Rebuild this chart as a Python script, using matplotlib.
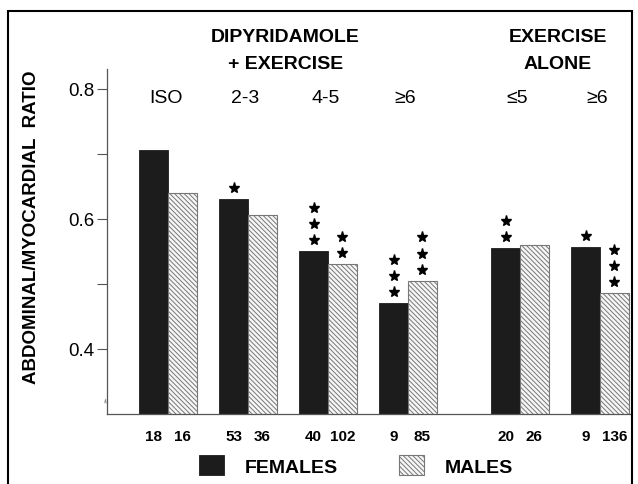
import matplotlib
matplotlib.use('Agg')
import matplotlib.pyplot as plt
from matplotlib.patches import Rectangle
import numpy as np

plt.rcParams['font.family'] = ['Liberation Sans', 'DejaVu Sans']
plt.rcParams['hatch.color'] = '#8a8a8a'
plt.rcParams['hatch.linewidth'] = 0.7

# Data
categories = ['ISO', '2-3', '4-5', '\u22656', '\u22645', '\u22656']
females = [0.706, 0.631, 0.551, 0.471, 0.555, 0.557]
males = [0.640, 0.605, 0.531, 0.505, 0.560, 0.486]
n_females = [18, 53, 40, 9, 20, 9]
n_males = [16, 36, 102, 85, 26, 136]
stars_females = [0, 1, 3, 3, 2, 1]
stars_males = [0, 0, 2, 3, 0, 3]
group_top = ['DIPYRIDAMOLE', 'EXERCISE']
group_bottom = ['+ EXERCISE', 'ALONE']

x = np.array([0, 1, 2, 3, 4.4, 5.4])
w = 0.36

fig = plt.figure(figsize=(6.38, 4.85), dpi=100)
ax = fig.add_axes([107/638, 70/485, 524/638, 345/485])

b1 = ax.bar(x - w/2, females, w, color='#1c1c1c', edgecolor='#1c1c1c',
            linewidth=0.6, label='FEMALES')
b2 = ax.bar(x + w/2, males, w, color='#f6f6f6', edgecolor='#777777',
            linewidth=0.8, hatch='\\\\\\\\\\\\\\', label='MALES')

ax.set_xlim(-0.7625, 5.7875)
ax.set_ylim(0.3, 0.83)

# axes styling
for s in ['top', 'right']:
    ax.spines[s].set_visible(False)
for s in ['left', 'bottom']:
    ax.spines[s].set_color('#555555')
    ax.spines[s].set_linewidth(0.9)
ax.set_xticks([])
ax.set_yticks([0.4, 0.6, 0.8])
ax.set_yticklabels(['0.4', '0.6', '0.8'], fontsize=13.5)
ax.set_yticks([0.5, 0.7], minor=True)
ax.tick_params(axis='y', which='both', direction='out', length=7, width=0.8,
               color='#555555', pad=2)

# axis break mark
ax.text(0.0, 0.322, '\u2248', transform=ax.get_yaxis_transform(), rotation=75,
        fontsize=6, ha='center', va='center', color='#444444')

# significance stars
off = 11/650.0
step = 16/650.0
for xi, v, k in zip(x - w/2, females, stars_females):
    for i in range(k):
        ax.plot(xi, v + off + i*step, marker='*', color='black', ms=8, clip_on=False)
for xi, v, k in zip(x + w/2, males, stars_males):
    for i in range(k):
        ax.plot(xi, v + off + i*step, marker='*', color='black', ms=8, clip_on=False)

# category labels
for xi, c in zip(x, categories):
    ax.text(xi - 0.03, 0.786, c, ha='center', va='center', fontsize=14)

# group headers
centers = [x[:4].mean() - 0.03, x[4:].mean() - 0.03]
for cx, t1, t2 in zip(centers, group_top, group_bottom):
    ax.text(cx, 0.880, t1, ha='center', va='center', fontsize=14,
            fontweight='bold', clip_on=False)
    ax.text(cx, 0.8385, t2, ha='center', va='center', fontsize=14,
            fontweight='bold', clip_on=False)

# n per bar
for xi, n in zip(x - w/2, n_females):
    ax.text(xi, 0.266, str(n), ha='center', va='center', fontsize=11,
            fontweight='bold', clip_on=False)
for xi, n in zip(x + w/2, n_males):
    ax.text(xi, 0.266, str(n), ha='center', va='center', fontsize=11,
            fontweight='bold', clip_on=False)

fig.text(32/638, 1 - 227/485, 'ABDOMINAL/MYOCARDIAL  RATIO', rotation=90,
         ha='center', va='center', fontsize=13.5, fontweight='bold')

fig.legend(handles=[b1, b2], loc='center', bbox_to_anchor=(0.558, 0.038),
           ncol=2, frameon=False, prop={'size': 14, 'weight': 'bold'},
           handlelength=1.3, handleheight=1.2, handletextpad=1.1,
           columnspacing=3.1)

# outer frame
fig.patches.append(Rectangle((8/638, -0.05), 624/638, 1.05 - 12/485, fill=False,
                             lw=1.5, edgecolor='black', transform=fig.transFigure))

fig.savefig('out.png', dpi=100)
